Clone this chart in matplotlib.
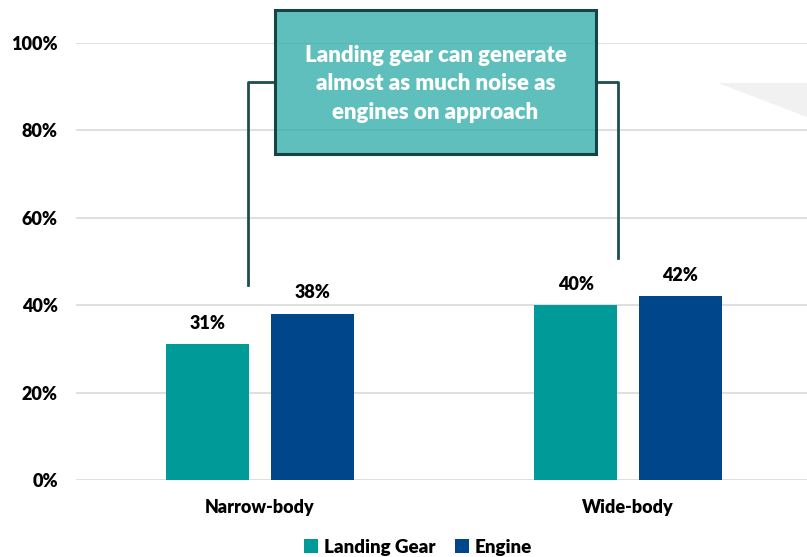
import matplotlib
matplotlib.use("Agg")
import matplotlib.pyplot as plt
from matplotlib.patches import Rectangle, Polygon
from matplotlib.lines import Line2D
import numpy as np

WEIGHT = "heavy"
plt.rcParams['font.family'] = ['Lato', 'DejaVu Sans']
plt.rcParams['font.weight'] = WEIGHT

categories = ["Narrow-body", "Wide-body"]
landing_gear = [31, 40]
engine = [38, 42]
y_ticks = [0, 20, 40, 60, 80, 100]
y_tick_labels = ["0%", "20%", "40%", "60%", "80%", "100%"]
callout_text = "Landing gear can generate\nalmost as much noise as\nengines on approach"

teal = "#009B98"
navy = "#00468B"

W, H = 807, 557
fig = plt.figure(figsize=(W / 100, H / 100), dpi=100)

# axes in pixel terms: left 76, right edge of figure, 0% at y=480, 100% at y=42.7
ax_left = 76 / W
ax_bottom = (H - 480) / H
ax_height = (480 - 42.7) / H
ax = fig.add_axes([ax_left, ax_bottom, 1 - ax_left, ax_height])

x = np.arange(len(categories))
off = 0.142
bw = 0.225
bars_lg = ax.bar(x - off, landing_gear, bw, color=teal, label="Landing Gear", zorder=3)
bars_en = ax.bar(x + off, engine, bw, color=navy, label="Engine", zorder=3)

for bars, vals in ((bars_lg, landing_gear), (bars_en, engine)):
    for b, v in zip(bars, vals):
        ax.annotate(f"{v}%", (b.get_x() + b.get_width() / 2, v),
                    xytext=(0, 9), textcoords="offset points",
                    ha="center", va="bottom", fontsize=13, fontweight=WEIGHT,
                    color="black", zorder=4)

ax.set_xlim(-0.5, 1.4858)
ax.set_ylim(0, 100)
ax.set_yticks(y_ticks)
ax.set_yticklabels(y_tick_labels, fontsize=13, fontweight=WEIGHT)
ax.set_xticks(x)
ax.set_xticklabels(categories, fontsize=13, fontweight=WEIGHT)
ax.tick_params(axis="both", length=0)
ax.tick_params(axis="y", pad=13)
ax.tick_params(axis="x", pad=14)
ax.grid(axis="y", color="#d9d9d9", linewidth=1.2, zorder=0)
for s in ax.spines.values():
    s.set_visible(False)

leg = fig.legend(handles=[bars_lg, bars_en], labels=["Landing Gear", "Engine"],
                 loc="center", bbox_to_anchor=(418 / W, 1 - 547 / H), ncol=2,
                 frameon=False, fontsize=13.5, handlelength=0.75, handleheight=0.75,
                 handletextpad=0.3, columnspacing=1.05)
for t in leg.get_texts():
    t.set_fontweight(WEIGHT)

# light grey wedge at the top right
fig.patches.append(Polygon([(718 / W, 1 - 83 / H), (1.0, 1 - 83 / H), (1.0, 1 - 117 / H)],
                           closed=True, transform=fig.transFigure,
                           facecolor="#f1f1f1", edgecolor="none", zorder=0))

# bracket lines joining the callout to each group
line_col = "#1E4E4E"
fig.add_artist(Line2D([275 / W, 248 / W, 248 / W], [1 - 82 / H, 1 - 82 / H, 1 - 285 / H],
                      transform=fig.transFigure, color=line_col, linewidth=2, zorder=5))
fig.add_artist(Line2D([596 / W, 618 / W, 618 / W], [1 - 82 / H, 1 - 82 / H, 1 - 258 / H],
                      transform=fig.transFigure, color=line_col, linewidth=2, zorder=5))

# callout box
bx0, bx1, by0, by1 = 275, 596, 10, 154
fig.add_artist(Rectangle((bx0 / W, 1 - by1 / H), (bx1 - bx0) / W, (by1 - by0) / H,
                         transform=fig.transFigure, facecolor="#2aaaa6", alpha=0.75,
                         edgecolor="none", zorder=6))
fig.add_artist(Rectangle((bx0 / W, 1 - by1 / H), (bx1 - bx0) / W, (by1 - by0) / H,
                         transform=fig.transFigure, facecolor="none",
                         edgecolor="#164444", linewidth=2.2, zorder=7))
fig.text((bx0 + bx1) / 2 / W, 1 - 84 / H, callout_text, ha="center", va="center",
         color="white", fontsize=16, fontweight=WEIGHT, linespacing=1.45, zorder=8)

fig.savefig("out.png", dpi=100)
